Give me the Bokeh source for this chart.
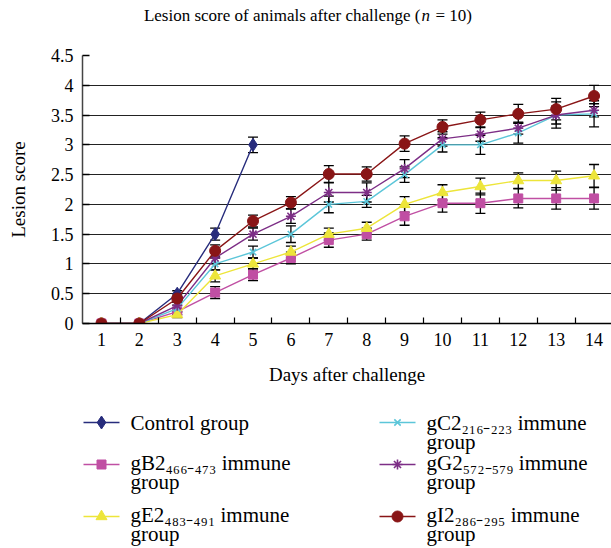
from bokeh.plotting import figure
from bokeh.layouts import column
from bokeh.models import (Range1d, FixedTicker, Whisker, ColumnDataSource, Label,
                          TeeHead, NumeralTickFormatter)
from bokeh.core.properties import value
from bokeh.embed import file_html
from bokeh.resources import INLINE

# ---------------- data ----------------
days = [1, 2, 3, 4, 5, 6, 7, 8, 9, 10, 11, 12, 13, 14]
control_days = [1, 2, 3, 4, 5]

control = [0, 0, 0.5, 1.5, 3.0]
control_err = [0, 0, 0.05, 0.1, 0.13]

gB2 = [0, 0, 0.2, 0.52, 0.82, 1.1, 1.4, 1.5, 1.8, 2.02, 2.02, 2.1, 2.1, 2.1]
gB2_err = [0, 0, 0.05, 0.1, 0.1, 0.1, 0.12, 0.1, 0.15, 0.15, 0.17, 0.16, 0.18, 0.18]

gE2 = [0, 0, 0.15, 0.8, 1.0, 1.2, 1.5, 1.6, 2.0, 2.2, 2.3, 2.4, 2.4, 2.48]
gE2_err = [0, 0, 0.05, 0.1, 0.1, 0.1, 0.1, 0.1, 0.13, 0.13, 0.14, 0.13, 0.16, 0.19]

gC2 = [0, 0, 0.25, 1.0, 1.2, 1.5, 2.0, 2.05, 2.5, 3.0, 3.0, 3.2, 3.5, 3.52]
gC2_err = [0, 0, 0.06, 0.1, 0.1, 0.14, 0.14, 0.1, 0.13, 0.12, 0.16, 0.17, 0.22, 0.22]

gG2 = [0, 0, 0.3, 1.1, 1.5, 1.8, 2.2, 2.2, 2.6, 3.1, 3.18, 3.28, 3.5, 3.58]
gG2_err = [0, 0, 0.06, 0.1, 0.1, 0.12, 0.16, 0.16, 0.15, 0.12, 0.12, 0.1, 0.15, 0.11]

gI2 = [0, 0, 0.42, 1.22, 1.72, 2.03, 2.51, 2.51, 3.02, 3.3, 3.42, 3.52, 3.6, 3.82]
gI2_err = [0, 0, 0.06, 0.1, 0.1, 0.1, 0.14, 0.12, 0.13, 0.12, 0.13, 0.16, 0.18, 0.18]

labels = [
    "Control group",
    "gB2\u2084\u2086\u2086\u208b\u2084\u2087\u2083 immune\ngroup",
    "gE2\u2084\u2088\u2083\u208b\u2084\u2089\u2081 immune\ngroup",
    "gC2\u2082\u2081\u2086\u208b\u2082\u2082\u2083 immune\ngroup",
    "gG2\u2085\u2087\u2082\u208b\u2085\u2087\u2089 immune\ngroup",
    "gI2\u2082\u2088\u2086\u208b\u2082\u2089\u2085 immune\ngroup",
]

title_parts = ["Lesion score of animals after challenge (", "n", "= 10)"]
x_title = "Days after challenge"
y_title = "Lesion score"

y_ticks = [0, 0.5, 1, 1.5, 2, 2.5, 3, 3.5, 4, 4.5]
x_minor = [1.5, 2.5, 3.5, 4.5, 5.5, 6.5, 7.5, 8.5, 9.5, 10.5, 11.5, 12.5, 13.5]

FONT = "Liberation Serif"
W = 611
LEFT = 82

series = [
    (control_days, control, control_err, "#272C7C", "diamond", 13),
    (days, gB2, gB2_err, "#C04FA3", "square", 9),
    (days, gE2, gE2_err, "#EDE53A", "triangle", 11),
    (days, gC2, gC2_err, "#5CC6D9", "x", 9),
    (days, gG2, gG2_err, "#7D2E86", "asterisk", 10),
    (days, gI2, gI2_err, "#891516", "circle", 11),
]


def strip(height):
    # a helper figure whose frame lines up with the main plot's frame;
    # x is in page pixels, y in pixels from the strip's top
    fig = figure(width=W, height=height, output_backend="svg", toolbar_location=None,
                 x_range=Range1d(LEFT, W), y_range=Range1d(height, 0),
                 min_border_left=LEFT, min_border_right=0, min_border_top=0,
                 min_border_bottom=0)
    fig.axis.visible = False
    fig.grid.visible = False
    fig.outline_line_color = None
    fig.background_fill_color = "white"
    fig.border_fill_color = "white"
    return fig


# ---------------- title strip ----------------
t = strip(40)
for txt, xx, al, style in [(title_parts[0], 420, "right", "normal"),
                           (title_parts[1], 421, "left", "italic"),
                           (title_parts[2], 435, "left", "normal")]:
    t.add_layout(Label(x=xx, y=15, text=txt, text_align=al, text_baseline="middle",
                       text_font=FONT, text_font_size="17px", text_font_style=style,
                       text_color="black"))

# ---------------- main plot ----------------
p = figure(width=W, height=360, output_backend="svg", toolbar_location=None,
           x_range=Range1d(0.5, 14.46), y_range=Range1d(0, 4.5),
           min_border_left=LEFT, min_border_right=0, min_border_top=15,
           min_border_bottom=77)
p.background_fill_color = "white"
p.border_fill_color = "white"
p.outline_line_color = None

p.xaxis.ticker = FixedTicker(ticks=days, minor_ticks=x_minor)
p.xaxis.major_tick_line_color = None
p.xaxis.minor_tick_in = 6
p.xaxis.minor_tick_out = 0
p.xaxis.minor_tick_line_color = "black"
p.xaxis.minor_tick_line_width = 1.2
p.xaxis.axis_line_color = "black"
p.xaxis.axis_line_width = 1.5
p.xaxis.major_label_standoff = 3
p.xaxis.axis_label = x_title
p.xaxis.axis_label_standoff = 15

p.yaxis.ticker = FixedTicker(ticks=y_ticks)
p.yaxis.formatter = NumeralTickFormatter(format="0.[0]")
p.yaxis.major_tick_in = 7
p.yaxis.major_tick_out = 0
p.yaxis.major_tick_line_color = "black"
p.yaxis.major_tick_line_width = 1.5
p.yaxis.minor_tick_line_color = None
p.yaxis.axis_line_color = "#444444"
p.yaxis.axis_line_width = 1.5
p.yaxis.major_label_standoff = 9
p.yaxis.axis_label = y_title
p.yaxis.axis_label_standoff = 19

for ax in (p.xaxis, p.yaxis):
    ax.major_label_text_font = FONT
    ax.major_label_text_font_size = "18px"
    ax.major_label_text_color = "black"
    ax.axis_label_text_font = FONT
    ax.axis_label_text_font_size = "19px"
    ax.axis_label_text_font_style = "normal"
    ax.axis_label_text_color = "black"

p.xgrid.visible = False
p.ygrid.grid_line_color = "#222222"
p.ygrid.grid_line_width = 1.2

for xs, ys, errs, color, marker, size in series:
    ex = [x for x, e in zip(xs, errs) if e > 0]
    eu = [y + e for y, e in zip(ys, errs) if e > 0]
    el = [y - e for y, e in zip(ys, errs) if e > 0]
    wsrc = ColumnDataSource(dict(x=ex, upper=eu, lower=el))
    p.add_layout(Whisker(source=wsrc, base="x", upper="upper", lower="lower",
                         dimension="height", line_color="black", line_width=1.3,
                         upper_head=TeeHead(size=10, line_color="black", line_width=1.3),
                         lower_head=TeeHead(size=10, line_color="black", line_width=1.3)))


def draw_marks(fig, xs, ys, color, marker, size):
    if marker in ("x", "asterisk"):
        fig.scatter(xs, ys, marker=marker, size=size, line_color=color, line_width=1.6)
    else:
        fig.scatter(xs, ys, marker=marker, size=size, fill_color=color,
                    line_color=color, line_width=1)


for xs, ys, errs, color, marker, size in series:
    p.line(xs, ys, line_color=color, line_width=1.4)
    draw_marks(p, xs, ys, color, marker, size)

# ---------------- legend strip ----------------
q = strip(148)

col_x = [83, 379]          # left end of legend glyph line, per column
row_y = [22, 62, 114]      # first text line centre, per row
glyph_w = 36
line2_dy = 19

for i, (xs, ys, errs, color, marker, size) in enumerate(series):
    cx = col_x[i // 3]
    ry = row_y[i % 3]
    gy = ry + (2 if i % 3 else 0)
    q.segment(x0=[cx], y0=[gy], x1=[cx + glyph_w], y1=[gy], line_color=color, line_width=1.4)
    draw_marks(q, [cx + glyph_w / 2], [gy], color, marker, size)
    parts = labels[i].split("\n")
    for k, part in enumerate(parts):
        q.text(x=[cx + glyph_w + 11], y=[ry + k * line2_dy], text=[part],
               text_font=value(FONT), text_font_size="21px", text_color="black",
               text_baseline="middle", text_align="left")

layout = column(t, p, q, spacing=0)
open("out.html", "w").write(file_html(layout, INLINE))
